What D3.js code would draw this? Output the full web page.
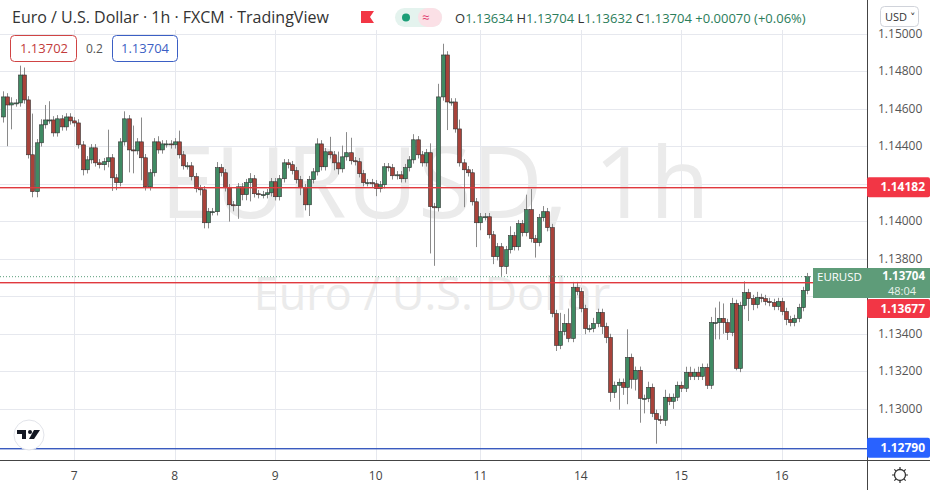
<!DOCTYPE html>
<html>
<head>
<meta charset="utf-8">
<script src="https://cdn.jsdelivr.net/npm/d3@7"></script>
<style>
  body { margin: 0; background: #fff; font-family: "Open Sans", "DejaVu Sans", sans-serif; }
</style>
</head>
<body>
<div id="chart"></div>
<script>
// hourly closes, EUR/USD
const closes = [
  1.14664,1.14621,1.14632,1.14632,1.14781,1.14648,1.14355,1.14158,1.14419,1.14515,
  1.14541,1.14541,1.14472,1.14547,1.14504,1.14557,1.14536,1.14525,1.14408,1.14275,
  1.14328,1.14392,1.14312,1.14302,1.14318,1.14339,1.14232,1.14206,1.14424,1.14547,
  1.14381,1.14376,1.14424,1.14339,1.14184,1.14259,1.14424,1.14381,1.14413,1.14413,
  1.14408,1.14424,1.14355,1.14296,1.14296,1.14238,1.14174,1.14168,1.13992,1.14051,
  1.14051,1.14286,
  1.14259,1.14179,1.14088,1.14083,1.14184,1.14142,1.14206,1.14227,1.14147,1.14142,
  1.14142,1.14152,1.14211,1.14131,1.14227,1.14312,1.14302,1.14270,1.14222,1.14179,
  1.14088,1.14222,1.14264,1.14413,1.14291,1.14371,1.14355,1.14312,1.14280,1.14344,
  1.14366,1.14323,1.14318,1.14254,1.14206,1.14206,1.14200,1.14174,1.14195,1.14291,
  1.14286,1.14243,1.14248,1.14227,1.14286,1.14328,1.14435,1.14355,1.14312,1.14366,
  1.14078,1.14072,1.14664,1.14888,1.14637,1.14637,1.14493,1.14312,1.14275,1.14259,
  1.14104,1.13992,1.14024,1.14024,1.13928,1.13811,1.13864,1.13758,1.13848,1.13923,
  1.13864,1.13987,1.13939,1.14062,1.13907,1.13886,1.14019,1.14051,1.13966,1.13507,
  1.13337,1.13411,1.13454,1.13374,1.13646,1.13625,1.13534,1.13427,1.13427,1.13454,
  1.13513,
  1.13438,1.13379,1.13086,1.13124,1.13140,1.13113,1.13273,1.13156,1.13204,1.13054,
  1.13054,1.13113,1.12974,1.12942,1.12937,1.13060,1.13038,1.13060,1.13124,1.13108,
  1.13193,1.13172,1.13193,1.13172,1.13220,1.13124,1.13459,1.13459,1.13481,1.13459,
  1.13406,1.13561,1.13214,1.13550,1.13619,1.13587,1.13555,1.13593,1.13587,1.13571,
  1.13566,1.13545,1.13571,1.13518,1.13475,1.13459,1.13481,1.13539,1.13630,1.13704
];
const firstOpen = 1.14557;

// wick lengths beyond the body, in pips
const wickUp = [
  3,2,3,2,5,4,2,22,2,3,8,10,2,2,2,2,2,2,2,2,2,2,2,2,2,15,2,2,2,4,2,13,2,13,2,2,2,3,2,2,2,2,6,2,2,2,2,2,2,2,2,3,
  2,2,2,2,2,2,2,3,2,2,2,2,2,2,2,2,2,2,2,2,2,2,2,3,2,2,8,2,6,6,11,8,2,2,2,2,2,2,2,2,2,2,2,2,2,2,3,2,2,2,
  5,2,7,6,2,2,2,5,2,2,2,2,2,2,2,2,2,2,2,5,2,2,2,8,11,2,2,3,2,2,2,10,5,8,3,3,2,2,2,3,2,
  2,2,2,2,2,2,15,2,2,2,2,3,2,2,2,4,2,2,2,2,3,3,2,3,2,2,3,8,9,8,2,3,2,2,6,2,2,3,2,2,2,2,2,2,2,2,2,2,2,2
];
const wickDown = [
  3,22,13,2,2,2,2,3,3,2,2,2,2,2,2,2,2,2,2,3,2,2,2,2,3,3,7,4,2,2,12,12,2,12,2,2,2,2,2,2,2,2,2,2,2,2,2,3,3,3,2,2,
  2,2,9,3,7,3,3,10,2,2,2,2,2,2,2,2,2,2,2,4,3,6,2,2,2,2,2,4,3,2,2,2,2,2,2,2,2,4,2,2,2,2,2,2,2,2,2,2,2,2,
  25,31,2,2,15,2,2,2,20,2,2,13,4,2,2,4,2,5,4,2,2,2,2,2,2,8,2,2,2,2,3,2,2,2,2,2,2,3,2,2,2,
  4,3,5,3,13,4,9,5,6,13,8,2,2,13,2,3,2,4,2,2,2,2,2,2,2,2,2,9,9,6,4,2,1,2,2,12,3,2,2,2,2,2,2,2,3,2,2,2,2,2
];

// day ticks: candle index where each day starts
const dayIndex = [17, 41, 65, 89, 114, 138, 162, 186];
const dayLabels = ["7", "8", "9", "10", "11", "14", "15", "16"];
const priceTicks = [1.130, 1.132, 1.134, 1.136, 1.138, 1.140, 1.142, 1.144, 1.146, 1.148, 1.150];
const hiddenTicks = [1.136, 1.142];
const levels = [1.14182, 1.13677];
const supportLevel = 1.1279;
const lastPrice = 1.13704;

const width = 930, height = 490;
const plotRight = 867, axisBottom = 460;

const candles = closes.map((c, i) => {
  const o = i === 0 ? firstOpen : closes[i - 1];
  return {
    i: i, o: o, c: c,
    h: Math.max(o, c) + wickUp[i] * 0.0001,
    l: Math.min(o, c) - wickDown[i] * 0.0001
  };
});

const x = d3.scaleLinear().domain([0, closes.length - 1]).range([3, 807]);
const y = d3.scaleLinear().domain([1.13, 1.15]).range([408.5, 34]);

const svg = d3.select("#chart").append("svg")
  .attr("width", width).attr("height", height)
  .style("font-family", "'Open Sans', 'DejaVu Sans', sans-serif");

// grid
svg.append("g").selectAll("line").data(priceTicks).join("line")
  .attr("x1", 0).attr("x2", plotRight)
  .attr("y1", d => Math.round(y(d)) + 0.5).attr("y2", d => Math.round(y(d)) + 0.5)
  .attr("stroke", "#e6e8ee");
svg.append("g").selectAll("line").data(dayIndex).join("line")
  .attr("x1", d => Math.round(x(d)) + 0.5).attr("x2", d => Math.round(x(d)) + 0.5)
  .attr("y1", 30).attr("y2", axisBottom)
  .attr("stroke", "#e6e8ee");

// watermark
svg.append("text").attr("x", 435).attr("y", 218).attr("text-anchor", "middle")
  .attr("font-size", 98).attr("fill", "#ebebeb").text("EURUSD, 1h");
svg.append("text").attr("x", 432).attr("y", 310).attr("text-anchor", "middle")
  .attr("font-size", 45).attr("fill", "#ebebeb").text("Euro / U.S. Dollar");

// candles
const up = "#3f8a63", down = "#a8423a";
const g = svg.append("g");
g.selectAll(".wick").data(candles).join("line")
  .attr("x1", d => Math.round(x(d.i)) + 0.5).attr("x2", d => Math.round(x(d.i)) + 0.5)
  .attr("y1", d => y(d.h)).attr("y2", d => y(d.l))
  .attr("stroke", "#8a8a8a");
g.selectAll(".body").data(candles).join("rect")
  .attr("x", d => Math.round(x(d.i)) - 1.5)
  .attr("width", 4)
  .attr("y", d => y(Math.max(d.o, d.c)))
  .attr("height", d => Math.max(1, Math.abs(y(d.o) - y(d.c))))
  .attr("fill", d => d.c >= d.o ? up : down)
  .attr("stroke", "#333").attr("stroke-width", 0.6);

// horizontal levels
svg.append("line").attr("x1", 0).attr("x2", plotRight)
  .attr("y1", y(lastPrice)).attr("y2", y(lastPrice))
  .attr("stroke", "#5a9e7a").attr("stroke-dasharray", "1,2");
svg.append("g").selectAll("rect").data(levels).join("rect")
  .attr("x", 0).attr("width", plotRight)
  .attr("y", d => Math.round(y(d))).attr("height", 1.4)
  .attr("fill", "#e0393e");
svg.append("rect").attr("x", 0).attr("width", plotRight)
  .attr("y", Math.round(y(supportLevel))).attr("height", 1.4).attr("fill", "#3a5bbf");

// right axis
svg.append("line").attr("x1", plotRight + 0.5).attr("x2", plotRight + 0.5)
  .attr("y1", 0).attr("y2", height).attr("stroke", "#444");
svg.append("line").attr("x1", 0).attr("x2", width)
  .attr("y1", axisBottom + 0.5).attr("y2", axisBottom + 0.5).attr("stroke", "#444");
svg.append("g").selectAll("text").data(priceTicks.filter(d => !hiddenTicks.includes(d))).join("text")
  .attr("x", 878).attr("y", d => y(d) + 4)
  .attr("font-size", 12).attr("fill", "#555")
  .text(d => d3.format(".5f")(d));

svg.append("g").selectAll("text").data(dayIndex).join("text")
  .attr("x", d => x(d)).attr("y", 480).attr("text-anchor", "middle")
  .attr("font-size", 12).attr("fill", "#444")
  .text((d, i) => dayLabels[i]);

// price labels on the axis
function tag(bg, label, yy, h) {
  svg.append("rect").attr("x", plotRight).attr("y", yy).attr("width", width - plotRight).attr("height", h)
    .attr("fill", bg).attr("rx", 2);
  svg.append("text").attr("x", 925).attr("y", yy + 14).attr("text-anchor", "end")
    .attr("font-size", 12).attr("font-weight", "bold").attr("fill", "#fff").text(label);
}
tag("#f23645", "1.14182", y(levels[0]) - 10, 20);
tag("#f23645", "1.13677", 299, 19);
tag("#2962ff", "1.12790", y(supportLevel) - 10, 20);
svg.append("rect").attr("x", 813).attr("y", 268).attr("width", width - 813).attr("height", 30)
  .attr("fill", "#5e9c79");
svg.append("text").attr("x", 817).attr("y", 281).attr("font-size", 11.5).attr("fill", "#fff").text("EURUSD");
svg.append("text").attr("x", 925).attr("y", 280).attr("text-anchor", "end")
  .attr("font-size", 11.5).attr("font-weight", "bold").attr("fill", "#fff").text("1.13704");
svg.append("text").attr("x", 916).attr("y", 295).attr("text-anchor", "end")
  .attr("font-size", 11).attr("fill", "#e8f3ec").text("48:04");

// USD dropdown
svg.append("rect").attr("x", 880.5).attr("y", 6.5).attr("width", 38).attr("height", 20).attr("rx", 4)
  .attr("fill", "#fff").attr("stroke", "#d0d3da");
svg.append("text").attr("x", 885).attr("y", 21).attr("font-size", 11).attr("fill", "#333").text("USD ˅");

// header
svg.append("text").attr("x", 12).attr("y", 23).attr("font-size", 16).attr("fill", "#333")
  .text("Euro / U.S. Dollar · 1h · FXCM · TradingView");
svg.append("path").attr("d", "M361,11 h13 l-4,6 l4,6 h-13 z").attr("fill", "#f23645");
svg.append("rect").attr("x", 395).attr("y", 8).attr("width", 47).attr("height", 19).attr("rx", 9.5).attr("fill", "#e4f3ee");
svg.append("rect").attr("x", 418).attr("y", 8).attr("width", 24).attr("height", 19).attr("rx", 9.5).attr("fill", "#fbe0e6");
svg.append("circle").attr("cx", 406).attr("cy", 17.5).attr("r", 4).attr("fill", "#1b9e77");
svg.append("text").attr("x", 422).attr("y", 22).attr("font-size", 13).attr("fill", "#e04070").text("≈");

const ohlc = svg.append("text").attr("x", 455).attr("y", 23).attr("font-size", 13).attr("fill", "#2b7d5a");
[["O", "1.13634 "], ["H", "1.13704 "], ["L", "1.13632 "], ["C", "1.13704 "], ["", "+0.00070 (+0.06%)"]].forEach(([k, v]) => {
  ohlc.append("tspan").attr("fill", "#333").text(k);
  ohlc.append("tspan").text(v);
});

svg.append("rect").attr("x", 10.5).attr("y", 35.5).attr("width", 66).attr("height", 26).attr("rx", 4)
  .attr("fill", "#fff").attr("stroke", "#d04444");
svg.append("text").attr("x", 20).attr("y", 53).attr("font-size", 13).attr("fill", "#c23b3b").text("1.13702");
svg.append("text").attr("x", 86).attr("y", 53).attr("font-size", 12).attr("fill", "#555").text("0.2");
svg.append("rect").attr("x", 112.5).attr("y", 35.5).attr("width", 65).attr("height", 26).attr("rx", 4)
  .attr("fill", "#fff").attr("stroke", "#3b5fc4");
svg.append("text").attr("x", 121).attr("y", 53).attr("font-size", 13).attr("fill", "#3b5fc4").text("1.13704");

// TradingView logo badge
svg.append("circle").attr("cx", 29).attr("cy", 435).attr("r", 15).attr("fill", "#fff").attr("stroke", "#e2e4ea");
svg.append("path").attr("d", "M17,430 h9 v9 h-4 v-5 h-5 z").attr("fill", "#131722");
svg.append("circle").attr("cx", 30).attr("cy", 432).attr("r", 2).attr("fill", "#131722");
svg.append("path").attr("d", "M34,430 h6 l-6,9 h-5 z").attr("fill", "#131722");

// settings icon
svg.append("circle").attr("cx", 900).attr("cy", 475).attr("r", 5.5).attr("fill", "none").attr("stroke", "#333").attr("stroke-width", 1.3);
svg.append("g").selectAll("line").data([0, 45, 90, 135]).join("line")
  .attr("x1", d => 900 + 8 * Math.cos(d * Math.PI / 180)).attr("y1", d => 475 + 8 * Math.sin(d * Math.PI / 180))
  .attr("x2", d => 900 - 8 * Math.cos(d * Math.PI / 180)).attr("y2", d => 475 - 8 * Math.sin(d * Math.PI / 180))
  .attr("stroke", "#333").attr("stroke-width", 1.2).attr("stroke-dasharray", "2.5,11");
</script>
</body>
</html>
